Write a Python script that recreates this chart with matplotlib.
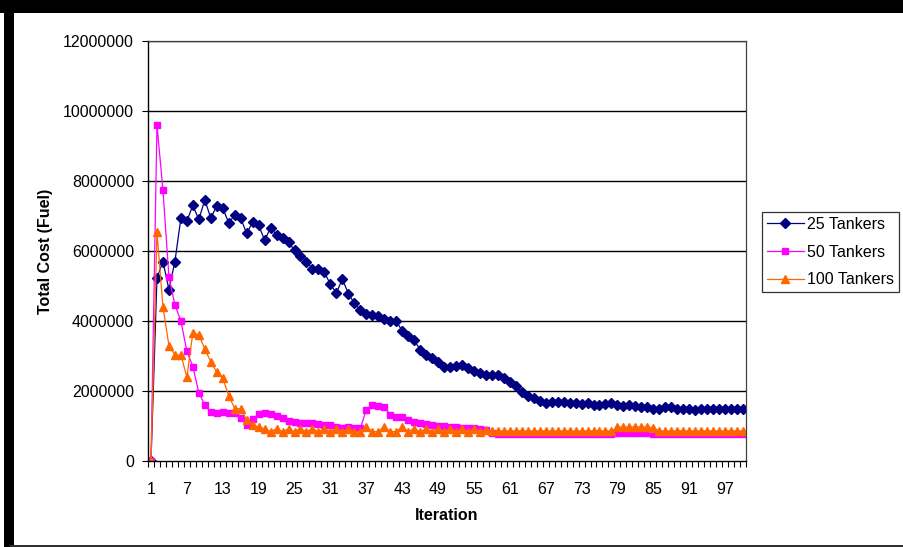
import numpy as np
import matplotlib
matplotlib.use("Agg")
import matplotlib.pyplot as plt
from matplotlib.patches import Rectangle
from matplotlib.ticker import FixedLocator, FuncFormatter

plt.rcParams['font.family'] = ['Liberation Sans', 'DejaVu Sans']

# total fuel cost per iteration, in millions
iterations = list(range(1, 101))

tankers_25 = [
    0, 5.23, 5.70, 4.90, 5.70, 6.94, 6.86, 7.30, 6.90, 7.46,
    6.94, 7.29, 7.23, 6.80, 7.03, 6.94, 6.50, 6.83, 6.74, 6.31,
    6.66, 6.47, 6.38, 6.25, 6.02, 5.87, 5.70, 5.49, 5.50, 5.39,
    5.05, 4.80, 5.20, 4.78, 4.51, 4.31, 4.20, 4.17, 4.13, 4.05,
    3.99, 4.00, 3.72, 3.56, 3.46, 3.18, 3.03, 2.93, 2.84, 2.68,
    2.68, 2.72, 2.74, 2.65, 2.58, 2.52, 2.46, 2.45, 2.47, 2.38,
    2.27, 2.14, 1.98, 1.86, 1.79, 1.71, 1.65, 1.69, 1.69, 1.69,
    1.66, 1.66, 1.63, 1.65, 1.60, 1.60, 1.63, 1.65, 1.60, 1.57,
    1.60, 1.57, 1.55, 1.55, 1.50, 1.50, 1.53, 1.53, 1.50, 1.50,
    1.48, 1.46, 1.50, 1.50, 1.48, 1.48, 1.50, 1.48, 1.48, 1.50,
]

tankers_50 = [
    0, 9.60, 7.74, 5.26, 4.46, 4.00, 3.14, 2.70, 1.95, 1.60,
    1.40, 1.37, 1.40, 1.37, 1.37, 1.23, 1.03, 1.20, 1.34, 1.37,
    1.35, 1.28, 1.22, 1.15, 1.12, 1.08, 1.08, 1.10, 1.06, 1.03,
    1.02, 0.98, 0.95, 0.97, 0.93, 0.93, 1.46, 1.60, 1.58, 1.55,
    1.32, 1.27, 1.25, 1.17, 1.12, 1.08, 1.06, 1.03, 1.00, 0.99,
    0.97, 0.96, 0.95, 0.94, 0.93, 0.92, 0.88, 0.80, 0.78, 0.78,
    0.78, 0.78, 0.78, 0.78, 0.78, 0.78, 0.78, 0.78, 0.78, 0.78,
    0.78, 0.78, 0.78, 0.78, 0.78, 0.78, 0.78, 0.78, 0.80, 0.80,
    0.80, 0.80, 0.80, 0.79, 0.77, 0.76, 0.76, 0.76, 0.76, 0.76,
    0.76, 0.76, 0.76, 0.76, 0.76, 0.76, 0.76, 0.76, 0.76, 0.76,
]

tankers_100 = [
    0, 6.54, 4.40, 3.30, 3.03, 3.03, 2.40, 3.66, 3.60, 3.20,
    2.83, 2.54, 2.37, 1.86, 1.50, 1.49, 1.17, 1.03, 0.97, 0.92,
    0.84, 0.92, 0.84, 0.92, 0.84, 0.92, 0.84, 0.92, 0.84, 0.92,
    0.84, 0.92, 0.84, 0.92, 0.84, 0.84, 0.98, 0.84, 0.84, 0.98,
    0.84, 0.84, 0.98, 0.84, 0.92, 0.84, 0.92, 0.84, 0.92, 0.84,
    0.92, 0.84, 0.92, 0.84, 0.92, 0.84, 0.90, 0.85, 0.86, 0.85,
    0.86, 0.85, 0.86, 0.85, 0.86, 0.85, 0.86, 0.85, 0.86, 0.85,
    0.86, 0.85, 0.86, 0.85, 0.86, 0.85, 0.86, 0.85, 0.97, 0.97,
    0.97, 0.97, 0.97, 0.97, 0.95, 0.86, 0.85, 0.86, 0.85, 0.86,
    0.85, 0.86, 0.85, 0.86, 0.85, 0.86, 0.85, 0.86, 0.85, 0.86,
]

series_names = ['25 Tankers', '50 Tankers', '100 Tankers']
y_ticks = [0, 2000000, 4000000, 6000000, 8000000, 10000000, 12000000]
x_labels = list(range(1, 101, 6))

fig = plt.figure(figsize=(9.04, 5.47), dpi=100)
ax = fig.add_axes([148 / 904, 1 - 461 / 547, 598 / 904, 420 / 547])

ax.plot(iterations, np.array(tankers_25) * 1e6, color='#000080', lw=0.9,
        marker='D', ms=4.8, label=series_names[0])
ax.plot(iterations, np.array(tankers_50) * 1e6, color='#FF00FF', lw=0.9,
        marker='s', ms=5.0, label=series_names[1])
ax.plot(iterations, np.array(tankers_100) * 1e6, color='#FF6600', lw=0.9,
        marker='^', ms=5.5, label=series_names[2])

ax.set_xlim(0.5, 100.5)
ax.set_ylim(0, 12000000)

# horizontal gridlines
for v in y_ticks[1:]:
    ax.axhline(v, color='black', lw=1.0, zorder=0.5)

ax.yaxis.set_major_locator(FixedLocator(y_ticks))
ax.yaxis.set_major_formatter(FuncFormatter(lambda v, p: '%d' % v))
ax.tick_params(axis='y', direction='out', length=4, width=0.8, pad=6,
               labelsize=11.5, colors='black')

# tick marks between categories, labels at category centres
ax.xaxis.set_major_locator(FixedLocator(x_labels))
ax.xaxis.set_minor_locator(FixedLocator(np.arange(0.5, 101, 1)))
ax.tick_params(axis='x', which='major', length=0, pad=15, labelsize=11.5)
ax.tick_params(axis='x', which='minor', direction='out', length=4, width=0.8)

for side in ['top', 'right']:
    ax.spines[side].set_color('#404040')
    ax.spines[side].set_linewidth(0.9)
for side in ['left', 'bottom']:
    ax.spines[side].set_color('black')
    ax.spines[side].set_linewidth(1.0)

ax.set_ylabel('Total Cost (Fuel)', fontsize=11.5, fontweight='bold')
ax.yaxis.set_label_coords(-0.159, 0.5)
ax.set_xlabel('Iteration', fontsize=11.5, fontweight='bold')
ax.xaxis.set_label_coords(0.5, -0.112)

leg = ax.legend(loc='upper left', bbox_to_anchor=(762 / 904, 1 - 212 / 547),
                bbox_transform=fig.transFigure, fontsize=11.5, frameon=True,
                fancybox=False, handlelength=2.3, handletextpad=0.2,
                borderpad=0.3, labelspacing=0.8, borderaxespad=0)
leg.get_frame().set_edgecolor('black')
leg.get_frame().set_linewidth(0.9)

# black frame along the top and left edge, thin line at the bottom
fig.add_artist(Rectangle((0, 534 / 547), 1, 13 / 547, transform=fig.transFigure,
                         color='black', lw=0))
fig.add_artist(Rectangle((4 / 904, 0), 10 / 904, 1, transform=fig.transFigure,
                         color='black', lw=0))
fig.add_artist(Rectangle((10 / 904, 0), 1, 2 / 547, transform=fig.transFigure,
                         color='#303030', lw=0))

fig.savefig('out.png', dpi=100)
